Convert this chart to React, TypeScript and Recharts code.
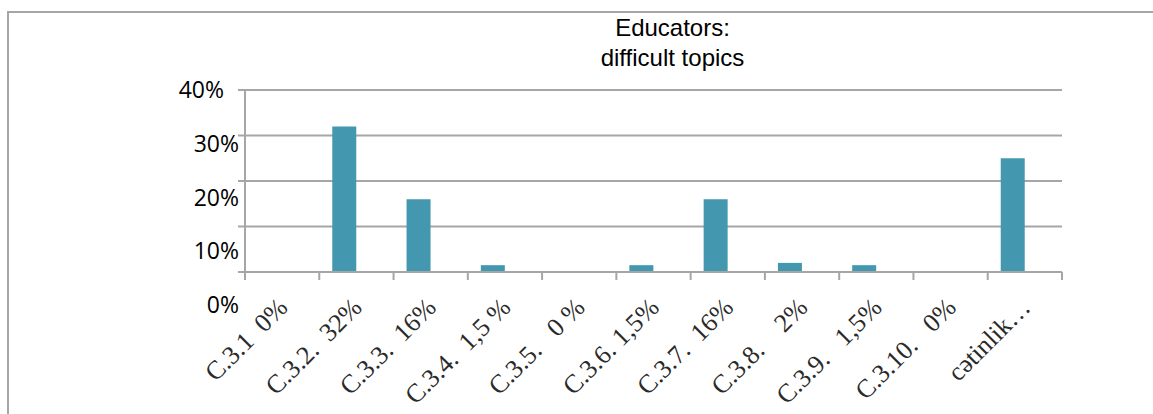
import { BarChart, Bar, XAxis, YAxis, CartesianGrid } from 'recharts';

const categories = [
  'C.3.1  0%',
  'C.3.2.  32%',
  'C.3.3.  16%',
  'C.3.4.  1,5 %',
  'C.3.5.   0 %',
  'C.3.6. 1,5%',
  'C.3.7.  16%',
  'C.3.8.    2%',
  'C.3.9.   1,5%',
  'C.3.10.   0%',
  'cətinlik…',
];
const values = [0, 32, 16, 1.5, 0, 1.5, 16, 2, 1.5, 0, 25];
const yTicks = [0, 10, 20, 30, 40];

const data = categories.map((name, i) => ({ name, value: values[i] }));

const GRAY = '#a6a6a6';
const TOP = 90;
const PLOT_W = 817;
const HALF_BAND = PLOT_W / categories.length / 2;

function YTick(props: any) {
  const { x, y, payload, index } = props;
  const dy = (y - TOP) * 0.18;
  const shift = index === yTicks.length - 1 ? -12 : 3;
  return (
    <text x={x + shift} y={y + dy} dy="0.36em" textAnchor="end" fill="#000" fontSize={23} fontFamily="'Open Sans', sans-serif">
      {payload.value}%
    </text>
  );
}

function XTick(props: any) {
  const { x, y, payload, index } = props;
  const tx = x + 7;
  const ty = y + 37;
  return (
    <g>
      <line x1={x - HALF_BAND} x2={x - HALF_BAND} y1={y} y2={y + 8} stroke={GRAY} strokeWidth={2} />
      {index === categories.length - 1 && (
        <line x1={x + HALF_BAND} x2={x + HALF_BAND} y1={y} y2={y + 8} stroke={GRAY} strokeWidth={2} />
      )}
      <text
        x={tx}
        y={ty}
        textAnchor="end"
        transform={`rotate(-45 ${tx} ${ty})`}
        fill="#2a2a2a"
        fontSize={26}
        fontFamily="'Liberation Serif', serif"
        style={{ whiteSpace: 'pre' }}
      >
        {payload.value}
      </text>
    </g>
  );
}

export default function App() {
  return (
    <div style={{ position: 'absolute', top: 0, left: 0, width: 1153, height: 414, background: '#fff', overflow: 'hidden' }}>
      <div style={{ position: 'absolute', top: 11, left: 7, right: -10, bottom: -10, borderTop: `2px solid ${GRAY}`, borderLeft: `2px solid ${GRAY}` }} />
      <div style={{ position: 'absolute', top: 13, left: 0, width: 1345, textAlign: 'center', fontFamily: "'Liberation Sans', Arial, sans-serif", fontSize: 24, lineHeight: '30px', color: '#000' }}>
        Educators:
        <br />
        difficult topics
      </div>
      <div style={{ position: 'absolute', top: 0, left: 0 }}>
        <BarChart width={1153} height={414} data={data} margin={{ top: TOP, right: 91, bottom: 42, left: 185 }} barGap={0}>
          <CartesianGrid horizontal vertical={false} stroke={GRAY} strokeWidth={2} />
          <XAxis
            dataKey="name"
            interval={0}
            height={100}
            tickLine={false}
            tickSize={0}
            tickMargin={0}
            axisLine={{ stroke: GRAY, strokeWidth: 2 }}
            tick={<XTick />}
          />
          <YAxis
            domain={[0, 40]}
            ticks={yTicks}
            width={60}
            tickSize={7}
            tickLine={{ stroke: GRAY, strokeWidth: 2 }}
            axisLine={{ stroke: GRAY, strokeWidth: 2 }}
            tick={<YTick />}
          />
          <Bar dataKey="value" fill="#4397ae" barSize={24} isAnimationActive={false} />
          <Bar dataKey="blank" fill="#4397ae" barSize={24} isAnimationActive={false} />
        </BarChart>
      </div>
    </div>
  );
}
